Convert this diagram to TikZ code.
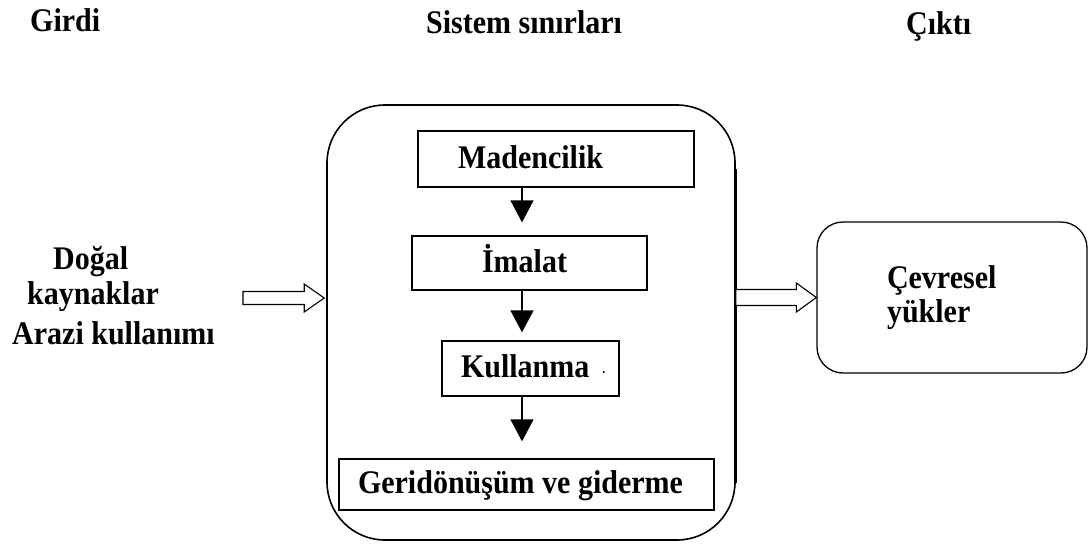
\documentclass[tikz,border=0pt]{standalone}
\usepackage{fontspec}
\setmainfont{Liberation Serif}
\usetikzlibrary{arrows.meta,calc}

\newcommand{\bigbold}{\fontsize{30}{34}\selectfont\bfseries}
\newcommand{\tall}[1]{\scalebox{1}[1.1]{#1}}

\tikzset{
  lbl/.style={inner sep=0pt, anchor=base west, font=\bigbold},
  stepbox/.style={draw, line width=1.3pt, inner sep=0pt, text height=23pt, text depth=5pt,
                  font=\bigbold},
  flow/.style={line width=1.4pt, -{Triangle[length=22pt,width=23pt]}},
  hollow/.style={draw, line width=1.1pt, fill=white, line join=miter},
}

% boxed step: #1 width, #2 left offset of the text
\newcommand{\steptext}[3]{\makebox[#1][l]{\hspace{#2}\tall{#3}}}

\begin{document}
\begin{tikzpicture}[x=1pt,y=-1pt]
\useasboundingbox (0,0) rectangle (1090,544);

% column headings
\node[lbl] (hin)  at (30,31)  {\tall{Girdi}};
\node[lbl] (hsys) at (426,33) {\tall{Sistem sınırları}};
\node[lbl] (hout) at (906,34) {\tall{Çıktı}};

% inputs
\node[lbl] (in1) at (53,269) {\tall{Doğal}};
\node[lbl] (in2) at (27,304) {\tall{kaynaklar}};
\node[lbl] (in3) at (12,344) {\tall{Arazi kullanımı}};

% system boundary
\node[draw, line width=1.6pt, rounded corners=58pt, minimum width=408pt, minimum height=435pt,
      inner sep=0pt] (sys) at (531,322.5) {};
\draw[line width=2.6pt] ([yshift=-65pt]sys.north east) -- ([yshift=58pt]sys.south east);

% process steps
\node[stepbox, minimum height=56pt] (mad) at (556,159)   {\steptext{276pt}{40pt}{Madencilik}};
\node[stepbox, minimum height=54pt] (ima) at (529.5,263) {\steptext{235pt}{70pt}{İmalat}};
\node[stepbox, minimum height=55pt] (kul) at (530.5,368.5)
  {\steptext{177pt}{19pt}{Kullanma\hspace{13pt}\raisebox{4pt}{\fontsize{12}{12}\selectfont.}}};
\node[stepbox, minimum height=51pt] (ger) at (526.5,484.5) {\steptext{375pt}{19pt}{Geridönüşüm ve giderme}};

\coordinate (ax) at (522,0);
\draw[flow, shorten >=13pt] (mad.south -| ax) -- (ima.north -| ax);
\draw[flow, shorten >=8pt]  (ima.south -| ax) -- (kul.north -| ax);
\draw[flow, shorten >=17pt] (kul.south -| ax) -- (ger.north -| ax);

% output
\node[draw, line width=1.3pt, rounded corners=26pt, minimum width=270pt, minimum height=151pt,
      inner xsep=70pt, text width=130pt, align=left,
      font=\bigbold] (out) at (952,297.5) {\tall{Çevresel}\\\tall{yükler}};

% hollow flow arrows
\coordinate (inL) at (243,298);
\path[hollow] let \p1=(inL), \p2=(inL -| sys.west) in
  (\x1,\y1+6.5pt) -- (\x2-22pt,\y1+6.5pt) -- (\x2-22pt,\y1+14pt) -- (\x2-2pt,\y1)
  -- (\x2-22pt,\y1-14pt) -- (\x2-22pt,\y1-6.5pt) -- (\x1,\y1-6.5pt) -- cycle;
\path[hollow] let \p1=(out.west -| sys.east), \p2=(out.west) in
  (\x1,\y1+8pt) -- (\x2-20pt,\y1+8pt) -- (\x2-20pt,\y1+14.5pt) -- (\x2,\y1)
  -- (\x2-20pt,\y1-14.5pt) -- (\x2-20pt,\y1-8pt) -- (\x1,\y1-8pt) -- cycle;
\end{tikzpicture}
\end{document}
